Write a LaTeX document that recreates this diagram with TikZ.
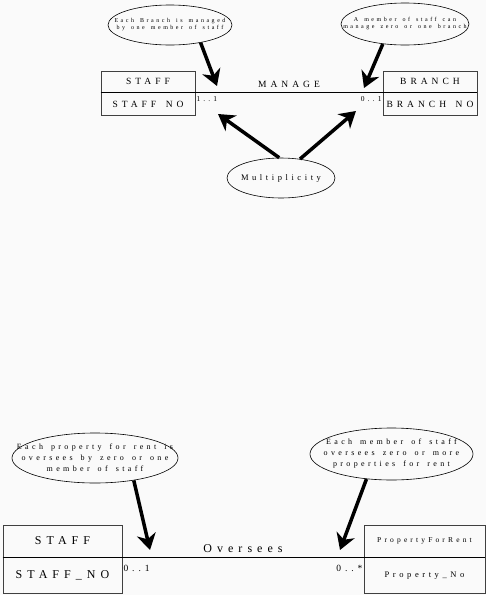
\documentclass[tikz,border=0pt]{standalone}
\usepackage{fontspec}
\setmainfont{Liberation Serif}
\newfontfamily\spaced[LetterSpace=42, WordSpace=1.5]{Liberation Serif}
\usetikzlibrary{shapes.geometric, arrows.meta, positioning}

\begin{document}
\begin{tikzpicture}[x=1pt, y=-1pt,
    entity/.style={rectangle, draw=black!75, line width=0.6pt, inner sep=0pt, text centered},
    divider/.style={line width=1.4pt},
    link/.style={line width=1.1pt},
    note/.style={ellipse, draw=black, line width=0.6pt, inner xsep=-30pt, inner ysep=0pt, align=center},
    bigarrow/.style={-{Stealth[length=16pt, width=19pt, inset=5pt]}, line width=3.5pt},
    mult/.style={inner sep=1pt}
]
\useasboundingbox[fill=black!2] (0,0) rectangle (486,595);

% Manage: entities
\node[entity, minimum width=94pt, minimum height=21pt, font=\spaced\fontsize{9.5}{10}\selectfont] (staffA) at (148,81.5) {STAFF};
\node[entity, minimum width=94pt, minimum height=23pt, below=0pt of staffA, font=\spaced\fontsize{9.5}{10}\selectfont] (staffAno) {STAFF NO};
\node[entity, minimum width=94pt, minimum height=21pt, font=\spaced\fontsize{9.5}{10}\selectfont] (branch) at (430,81.5) {BRANCH};
\node[entity, minimum width=94pt, minimum height=23pt, below=0pt of branch, font=\spaced\fontsize{9.5}{10}\selectfont] (branchno) {BRANCH NO};
\draw[divider] (staffA.south west) -- (staffA.south east);
\draw[divider] (branch.south west) -- (branch.south east);

% Manage: relationship and multiplicities
\draw[link] (staffA.south east) -- node[above=1pt, font=\spaced\fontsize{9.5}{10}\selectfont] (manage) {MANAGE} (branch.south west);
\node[mult, below right=3pt and 0pt of staffA.south east, font=\spaced\fontsize{7.5}{8}\selectfont] (mA1) {1..1};
\node[mult, below left=3pt and 0pt of branch.south west, font=\spaced\fontsize{7.5}{8}\selectfont] (mA2) {0..1};

% Manage: notes
\node[note, minimum width=124pt, minimum height=40pt, font=\spaced\fontsize{6}{7}\selectfont] (noteA1) at (170,25) {Each Branch is managed\\by one member of staff};
\node[note, minimum width=128pt, minimum height=42pt, font=\spaced\fontsize{6}{7}\selectfont] (noteA2) at (405,24) {A member of staff can\\manage zero or one branch};
\node[note, minimum width=108pt, minimum height=40pt, font=\spaced\fontsize{8.5}{9}\selectfont] (multi) at (281,178) {Multiplicity};

\coordinate (tipA1) at (217,86);
\coordinate (tipA2) at (364,88);
\coordinate (tipM1) at (218,114);
\coordinate (tipM2) at (356,111);
\draw[bigarrow] (noteA1.-30) -- (tipA1);
\draw[bigarrow] (noteA2.-138) -- (tipA2);
\draw[bigarrow] (multi.95) -- (tipM1);
\draw[bigarrow] (multi.45) -- (tipM2);

% Oversees: entities
\node[entity, minimum width=119pt, minimum height=32pt, font=\spaced\fontsize{12}{13}\selectfont] (staffB) at (62.5,541) {STAFF};
\node[entity, minimum width=119pt, minimum height=36pt, below=0pt of staffB, font=\spaced\fontsize{12}{13}\selectfont] (staffBno) {STAFF\_NO};
\node[entity, minimum width=121pt, minimum height=32pt, font=\spaced\fontsize{7.5}{9}\selectfont] (property) at (424.5,541) {PropertyForRent};
\node[entity, minimum width=121pt, minimum height=36pt, below=0pt of property, font=\spaced\fontsize{8.5}{10}\selectfont] (propertyno) {Property\_No};
\draw[divider] (staffB.south west) -- (staffB.south east);
\draw[divider] (property.south west) -- (property.south east);

% Oversees: relationship and multiplicities
\draw[link] (staffB.south east) -- node[above=1pt, font=\spaced\fontsize{12}{13}\selectfont] (oversees) {Oversees} (property.south west);
\node[mult, below right=7pt and 0pt of staffB.south east, font=\spaced\fontsize{9.5}{10}\selectfont] (mB1) {0..1};
\node[mult, below left=7pt and 0pt of property.south west, font=\spaced\fontsize{9.5}{10}\selectfont] (mB2) {0..*};

% Oversees: notes
\node[note, minimum width=166pt, minimum height=50pt, font=\spaced\fontsize{8}{11}\selectfont] (noteB1) at (95,458) {Each property for rent is\\oversees by zero or one\\member of staff};
\node[note, minimum width=163pt, minimum height=52pt, font=\spaced\fontsize{8}{11}\selectfont] (noteB2) at (391.5,454) {Each member of staff\\oversees zero or more\\properties for rent};

\coordinate (tipB1) at (150,550);
\coordinate (tipB2) at (340,550);
\draw[bigarrow] (noteB1.-30) -- (tipB1);
\draw[bigarrow] (noteB2.-135) -- (tipB2);

\end{tikzpicture}
\end{document}
